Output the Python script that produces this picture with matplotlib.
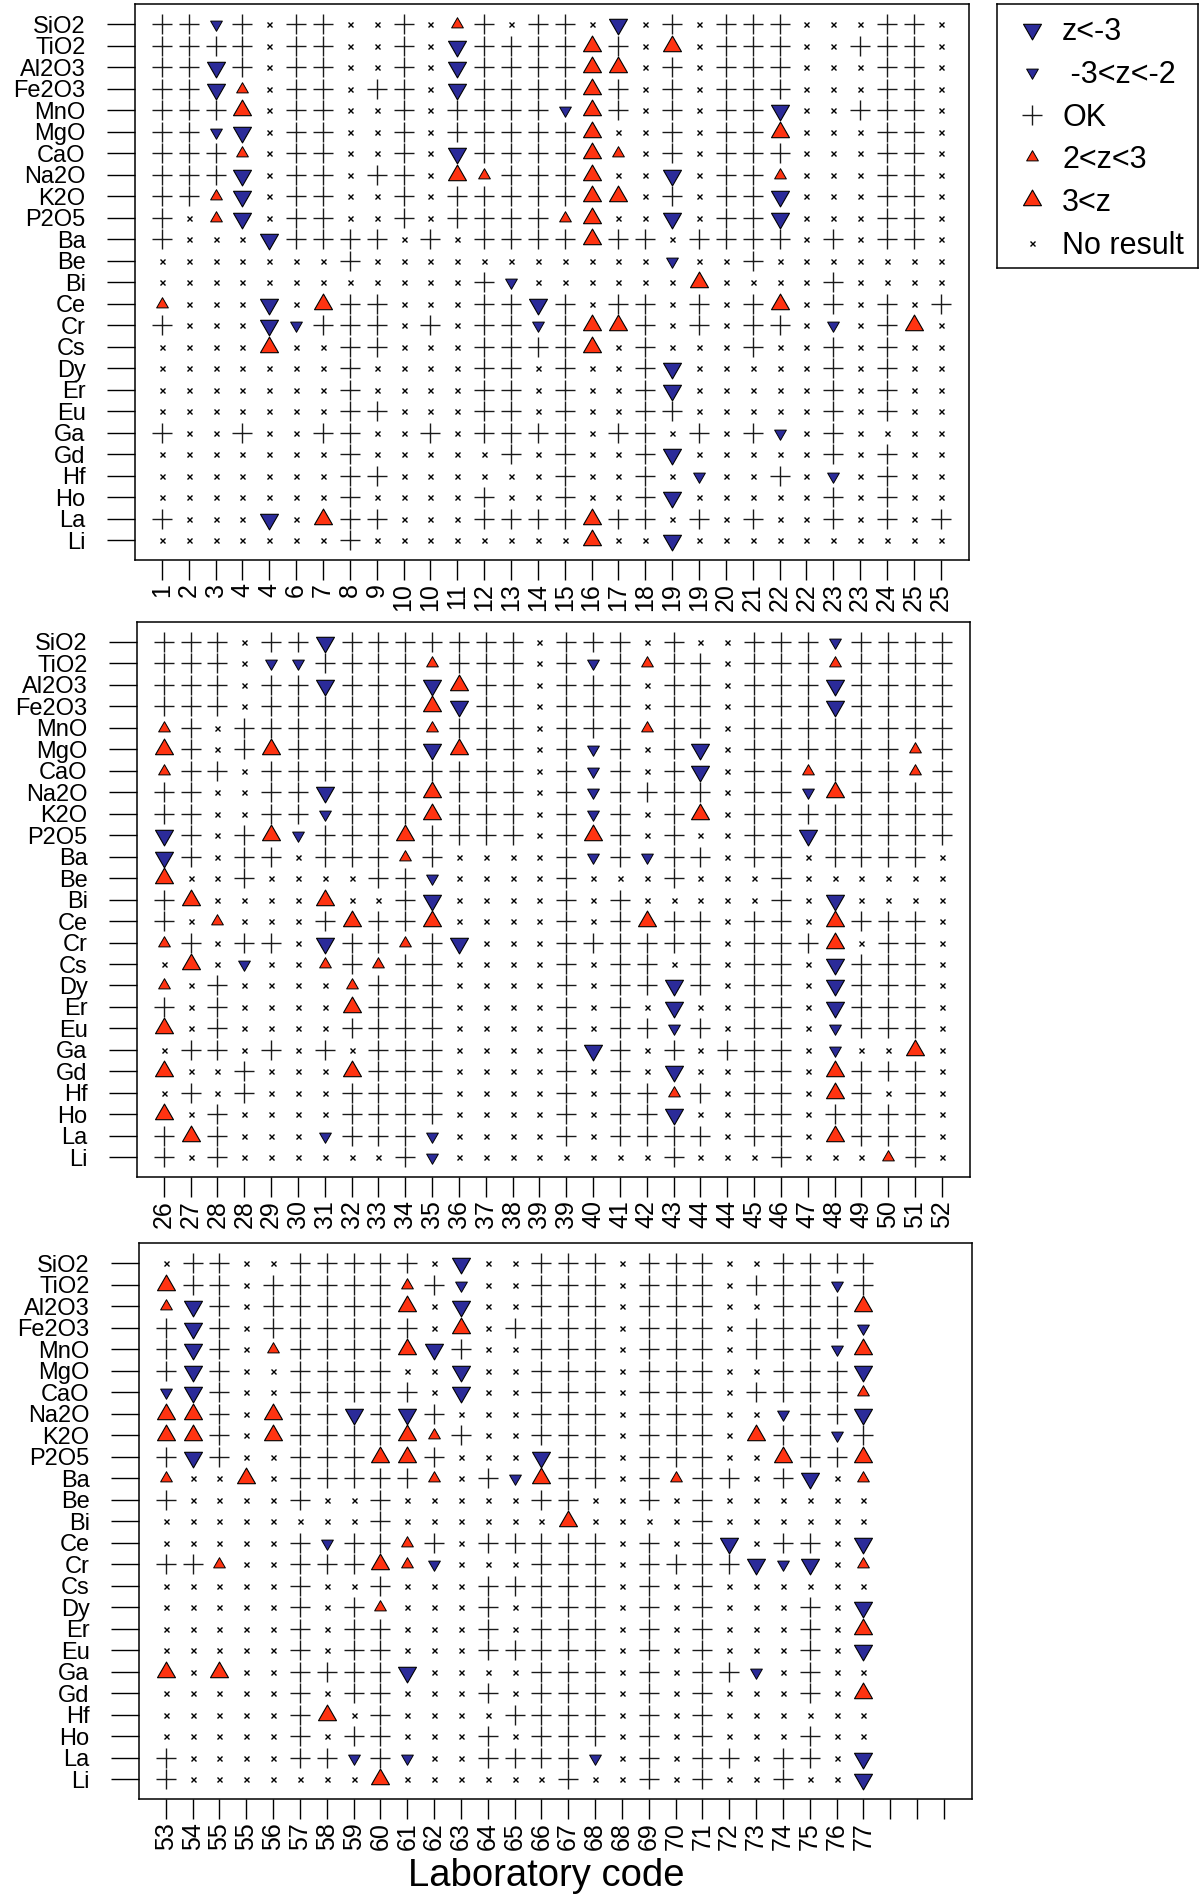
import matplotlib
matplotlib.use('Agg')
import matplotlib.pyplot as plt
import matplotlib.transforms as mtransforms
from matplotlib.path import Path
import numpy as np

plt.rcParams['font.family'] = ['Liberation Sans', 'DejaVu Sans']

elements = ['SiO2', 'TiO2', 'Al2O3', 'Fe2O3', 'MnO', 'MgO', 'CaO', 'Na2O', 'K2O', 'P2O5',
            'Ba', 'Be', 'Bi', 'Ce', 'Cr', 'Cs', 'Dy', 'Er', 'Eu', 'Ga', 'Gd', 'Hf', 'Ho', 'La', 'Li']

# lab codes as printed under each panel
labs1 = ['1', '2', '3', '4', '4', '6', '7', '8', '9', '10', '10', '11', '12', '13', '14',
         '15', '16', '17', '18', '19', '19', '20', '21', '22', '22', '23', '23', '24', '25', '25']
labs2 = ['26', '27', '28', '28', '29', '30', '31', '32', '33', '34', '35', '36', '37', '38', '39',
         '39', '40', '41', '42', '43', '44', '44', '45', '46', '47', '48', '49', '50', '51', '52']
labs3 = ['53', '54', '55', '55', '56', '57', '58', '59', '60', '61', '62', '63', '64', '65', '66',
         '67', '68', '68', '69', '70', '71', '72', '73', '74', '75', '76', '77', '', '', '']

# one char per lab: D z<-3, d -3<z<-2, + OK, u 2<z<3, U 3<z, x no result
codes1 = [
    "++d+x++xx+xu+x+" "+xDx+x+++xxx++x",
    "++++x++xx+xD+++" "+U+xUx+++xx+++x",
    "++D+x++xx+xD+++" "+UUx+x+++xxx++x",
    "++Dux++x++xD+++" "+U+x+x+++xxx++x",
    "+++Ux++xx+x++++" "dU+x+x++Dxx+++x",
    "++dDx++xx+x++++" "+Uxx+x++Uxxx++x",
    "+++ux++xx+xD+++" "+Uux+x+++xxx++x",
    "+++Dx++x++xUu++" "+UxxDx++uxxx++x",
    "++uDx++xx+x++++" "+UUx+x++Dxxx++x",
    "+xuDx++xx+x++++" "uUxxDx++Dxxx++x",
    "+xxxD++++x+x+++" "+U++x++++x+x++x",
    "xxxxxxx+xxxxxxx" "xxxxdxx+xxxxxxx",
    "xxxxxxxxxxxx+dx" "xxxxxUxxxx+xxxx",
    "uxxxDxU++xxx++D" "+x++x+x+Ux+x+x+",
    "+xxxDd+++x+x++d" "+UU+x+x++xdx+Ux",
    "xxxxUxx++xxx+++" "+Ux+xxx+xx+x+xx",
    "xxxxxxx+xxxx++x" "+xx+Dxxxxx+x+xx",
    "xxxxxxx+xxxx++x" "+xx+Dxxxxx+x+xx",
    "xxxxxxx++xxx++x" "+xx++xxxxx+x+xx",
    "+xx+xx++xx+x+++" "+x++x+x+dx+xxxx",
    "xxxxxxx+xxxxx+x" "+xx+Dxxxxx+x+xx",
    "xxxxxxx++xxxxxx" "+xx+xdxx+xdx+xx",
    "xxxxxxx+xxxx+xx" "+xx+Dxxxxx+x+xx",
    "+xxxDxU++xxx+++" "+U++x+x+xx+x+x+",
    "xxxxxxx+xxxxxxx" "xUxxDxxxxxxxxxx",
]
codes2 = [
    "+++x++D+++++++x" "+++x+xx+++d++++",
    "+++xdd++++u+++x" "+d+u++x+++u++++",
    "+++x++D+++DU++x" "+++x++x+++D++++",
    "+++x++++++UD++x" "+++x++x+++D++++",
    "u+x+++++++u+++x" "+++u++x++++++++",
    "U+x+U+++++DU++x" "+d+x+Dx++++++u+",
    "u++x++++++++++x" "+d+x+Dx++u+++u+",
    "++xx++D+++U+++x" "+d++++x++dU++++",
    "++xx++d+++U+++x" "+d+x+Ux++++++++",
    "D+x+Ud+++U++++x" "+U+x+xx++D+++++",
    "D+x++x+++u+xxxx" "+d+d++x++x++++x",
    "Uxx+xxxx++dxxxx" "+xxx+xxx+xxxxxx",
    "+UxxxxUxx+Dxxxx" "+x+xxxxx+xDxxxx",
    "+xuxxx+U++Uxxxx" "+x+U++x++xU+++x",
    "u+x++xD++u+Dxxx" "++++++x+++Ux++x",
    "xUxdxxu+u++xxxx" "+x++x+x++xD+++x",
    "ux+xxxxu+++xxxx" "+x++D+x++xD+++x",
    "+x+xxxxU+++xxxx" "+x+xDxx++xD+++x",
    "Ux+xxxx++++xxxx" "+x++d+x++xd+++x",
    "x++x+x+x+++xxxx" "+D+x+x+++xdxxUx",
    "Uxx+xxxU+++xxxx" "+x+xDxx++xU+++x",
    "x+x+xxx++++xxxx" "+x++u+x++xU+x+x",
    "Ux+xxxx++++xxxx" "+x++Dxx++x++++x",
    "+U+xxxd+++dxxxx" "+x++++x++xU+++x",
    "+x+xxxxxx+dxxxx" "xxxx+xxx+xxxu+x",
]
codes3 = [
    "x++xx+++++xDxx+" "++x+++xx++++",
    "U++x+++++u+dxx+" "++x+++x+++d+",
    "uD+x+++++UxDxx+" "++x+++xx+++U",
    "+D+x++++++xUx++" "++x+++x++++d",
    "+D+xu++++UD+xx+" "++x+++x+++dU",
    "+D+xx++++xxDxx+" "++x+++xx+++D",
    "dD+xx+++++xDxx+" "++x+++x++++u",
    "UU+xU++D+D+xxx+" "++x+++xxd++D",
    "UU+xU++++Uu+xx+" "++x+++xU++d+",
    "+D+xx+++UU+xxxD" "++x+++xxU++U",
    "uxxUx+++++ux+dU" "++x+u++x+Dxu",
    "+xxxx+xx+xxxxx+" "+xx+x+xxxxxx",
    "xxxxxxxx+xxxxxx" "Uxxxx+xxxxxx",
    "xxxxx+d++u+x+++" "++x+x+Dx++xD",
    "++uxx+++Uudxxx+" "++x++++DdDxu",
    "xxxxx+xx+xxx+++" "++x+x+xxxxxx",
    "xxxxx+x+uxxx+x+" "++x+x+xxx+xD",
    "xxxxx+x++xxx+x+" "++x+x+xxx+xU",
    "xxxxx+x++xxx+++" "++x+x+xxx+xD",
    "UxUxx++++Dxxxx+" "++x+x++dx+xx",
    "xxxxx+x++xxx+x+" "++x+x+xxx+xU",
    "xxxxx+Ux+xxxx++" "++x+x+xxxxxx",
    "xxxxx+x++xxx+x+" "++x+x+xxx+xx",
    "+xxxx++d+dxx+++" "+dx+x++x++xD",
    "+xxxxxxxUxxxxxx" "+xx+x+xx+xxD",
]

legend_syms = ['D', 'd', '+', 'u', 'U', 'x']
legend_text = ['z<-3', ' -3<z<-2', 'OK', '2<z<3', '3<z', 'No result']

W, H = 1199, 1894
fig = plt.figure(figsize=(W / 100, H / 100), dpi=100)

down = Path([(-0.575, 0.333), (0.575, 0.333), (0, -0.667), (0, 0)], closed=True)
up = Path([(-0.575, -0.333), (0.575, -0.333), (0, 0.667), (0, 0)], closed=True)
blue = '#2b2b99'
red = '#ff3311'
styles = {
    'D': dict(marker=down, ms=15, mfc=blue, mec='black', mew=0.8),
    'd': dict(marker=down, ms=9.8, mfc=blue, mec='black', mew=0.7),
    '+': dict(marker='+', ms=14.4, mec='#1a1a1a', mew=1.0),
    'u': dict(marker=up, ms=9.8, mfc=red, mec='black', mew=0.7),
    'U': dict(marker=up, ms=15, mfc=red, mec='black', mew=0.8),
    'x': dict(marker='x', ms=3.6, mec='black', mew=1.0),
}

# panel boxes in pixels: left, top, right, bottom
boxes = [(135, 4, 969, 560), (137, 622, 970, 1177), (139, 1243, 972, 1799)]
panels = [(codes1, labs1), (codes2, labs2), (codes3, labs3)]

label_shift = mtransforms.ScaledTranslation(9 / 100, 0, fig.dpi_scale_trans)

for (l, t, r, b), (codes, labs) in zip(boxes, panels):
    ax = fig.add_axes([l / W, 1 - b / H, (r - l) / W, (b - t) / H])
    for sym, st in styles.items():
        xs, ys = [], []
        for i, row in enumerate(codes):
            for j, ch in enumerate(row):
                if ch == sym:
                    xs.append(j + 1)
                    ys.append(i)
        ax.plot(xs, ys, ls='none', **st)
    ax.set_xlim(0, 31.05)
    ax.set_ylim(24.92, -0.93)
    ax.set_yticks(range(len(elements)))
    ax.set_yticklabels(elements, fontsize=17)
    ax.set_xticks(np.arange(1, len(labs) + 1))
    ax.set_xticklabels(labs, rotation=90, fontsize=18)
    for lbl in ax.get_xticklabels():
        lbl.set_transform(lbl.get_transform() + label_shift)
    ax.tick_params(axis='y', length=20, pad=15.5, width=1)
    ax.tick_params(axis='x', length=14.4, pad=2, width=1)
    for sp in ax.spines.values():
        sp.set_linewidth(1.1)

fig.text(546 / W, 1 - 1885.7 / H, 'Laboratory code', ha='center', va='baseline', fontsize=27.5)

# legend box
lax = fig.add_axes([997 / W, 1 - 268 / H, (1198 - 997) / W, (268 - 4) / H])
lax.set_xlim(997, 1198)
lax.set_ylim(268, 4)
lax.set_xticks([])
lax.set_yticks([])
for sp in lax.spines.values():
    sp.set_linewidth(1.1)
for k, (sym, txt) in enumerate(zip(legend_syms, legend_text)):
    y = 29 + k * 42.8
    lax.plot([1031.6], [y], ls='none', **styles[sym])
    lax.text(1062, y + 11, txt, fontsize=22, va='baseline', ha='left')

fig.savefig('out.png', dpi=100)
